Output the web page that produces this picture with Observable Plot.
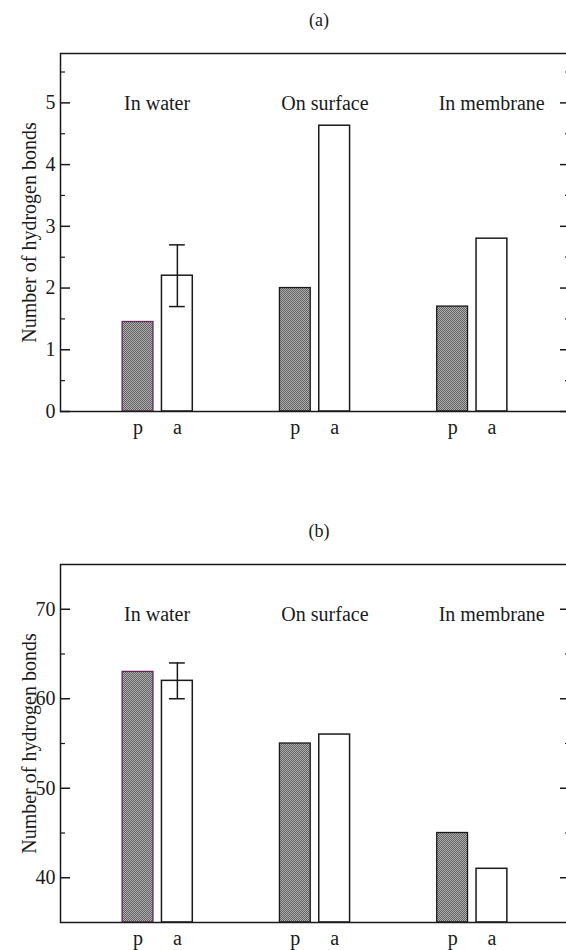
<!DOCTYPE html>
<html><head><meta charset="utf-8">
<script src="https://cdn.jsdelivr.net/npm/d3@7"></script>
<script src="https://cdn.jsdelivr.net/npm/@observablehq/plot@0.6"></script>
<style>
html,body{margin:0;padding:0;background:#fff;overflow:hidden;width:566px}
#wrap{width:566px;height:950px;overflow:hidden;position:relative;background:#fff}
#wrap svg{display:block;font-family:'Liberation Serif','Times New Roman',serif !important}
#wrap svg text{font-family:'Liberation Serif','Times New Roman',serif !important}
</style></head><body><div id="wrap"></div>
<script>
// ---- data ----
const groups = ["In water", "On surface", "In membrane"];
const types = ["p", "a"];
const yLabel = "Number of hydrogen bonds";

// panel (a)
const titleA = "(a)";
const bondsA_p = [1.45, 2.0, 1.7];
const bondsA_a = [2.2, 4.63, 2.8];
const errA_group = ["In water"];
const errA_low = [1.7];
const errA_high = [2.7];
const yDomainA = [0, 5.8];
const yTicksA = [0, 1, 2, 3, 4, 5];
const yMinorA = [0.5, 1.5, 2.5, 3.5, 4.5, 5.5];

// panel (b)
const titleB = "(b)";
const bondsB_p = [63, 55, 45];
const bondsB_a = [62, 56, 41];
const errB_group = ["In water"];
const errB_low = [60];
const errB_high = [64];
const yDomainB = [35, 75];
const yTicksB = [40, 50, 60, 70];
const yMinorB = [45, 55, 65];

// ---- helpers ----
const keyOf = (g, t) => g + "|" + t;
const slots = [];
groups.forEach((g, i) => {
  types.forEach(t => slots.push(keyOf(g, t)));
  if (i < groups.length - 1) { slots.push("gap" + i + "a"); slots.push("gap" + i + "b"); }
});

const INK = "#1a1a1a";
const FONT = "'Liberation Serif', 'Times New Roman', serif";

function panel({id, title, pVals, aVals, errGroups, errLow, errHigh, yDomain, yTicks, yMinor, marginTop, marginBottom}) {
  const bars = groups.flatMap((g, i) => [
    {group: g, type: "p", value: pVals[i]},
    {group: g, type: "a", value: aVals[i]}
  ]);
  const errs = errGroups.map((g, i) => ({group: g, type: "a", low: errLow[i], high: errHigh[i]}));
  const xk = d => keyOf(d.group, d.type);
  const pBars = bars.filter(d => d.type === "p");
  const aBars = bars.filter(d => d.type === "a");
  const svg = Plot.plot({
    width: 566, height: 475,
    marginLeft: 60, marginRight: -3, marginTop, marginBottom,
    style: {fontFamily: FONT, fontSize: "20px", color: INK, background: "white"},
    x: {domain: slots, paddingInner: 0.216, paddingOuter: 1.58, round: false},
    y: {domain: yDomain},
    marks: [
      Plot.barY(pBars, {x: xk, y1: yDomain[0], y2: "value", fill: `url(#hatch${id})`,
        stroke: d => d.group === "In water" ? "#6a2458" : INK, strokeWidth: 1.3}),
      Plot.barY(aBars, {x: xk, y1: yDomain[0], y2: "value", fill: "white", stroke: INK, strokeWidth: 1.5}),
      Plot.ruleX(errs, {x: xk, y1: "low", y2: "high", stroke: INK, strokeWidth: 1.5}),
      Plot.tickY(errs, {x: xk, y: "low", insetLeft: 7.5, insetRight: 7.5, stroke: INK, strokeWidth: 1.5}),
      Plot.tickY(errs, {x: xk, y: "high", insetLeft: 7.5, insetRight: 7.5, stroke: INK, strokeWidth: 1.5}),
      Plot.frame({stroke: INK, strokeWidth: 1.5}),
      // left axis
      Plot.axisY({ticks: yTicks, tickSize: -10, fill: "none", label: null, strokeWidth: 1.5, stroke: INK}),
      Plot.axisY({ticks: yMinor, tickSize: -5, fill: "none", label: null, strokeWidth: 1.2, stroke: INK}),
      Plot.axisY({ticks: yTicks, tickSize: 0, tickPadding: 5, label: null, fontSize: 20, fill: INK,
        tickFormat: d => String(d)}),
      // right axis
      Plot.axisY({anchor: "right", ticks: yTicks, tickSize: -10, fill: "none", label: null, strokeWidth: 1.5, stroke: INK}),
      Plot.axisY({anchor: "right", ticks: yMinor, tickSize: -5, fill: "none", label: null, strokeWidth: 1.2, stroke: INK}),
      // x labels
      Plot.axisX({tickSize: 0, tickPadding: 8, label: null, fontSize: 20, fill: INK,
        tickFormat: d => d.includes("|") ? d.split("|")[1] : ""}),
      // group labels
      Plot.text(groups, {x: g => keyOf(g, "p"), text: g => g, frameAnchor: "top", dy: 50, dx: -14,
        textAnchor: "start", lineAnchor: "middle", fontSize: 20, fill: INK}),
      // y label
      Plot.text([yLabel], {text: d => d, frameAnchor: "left", rotate: -90, dx: -31,
        textAnchor: "middle", lineAnchor: "middle", fontSize: 20, fill: INK}),
      // panel title
      Plot.text([title], {text: d => d, frameAnchor: "top", dy: -33, dx: 4,
        textAnchor: "middle", lineAnchor: "middle", fontSize: 18, fill: INK})
    ]
  });
  const ns = "http://www.w3.org/2000/svg";
  const defs = document.createElementNS(ns, "defs");
  defs.innerHTML = `<pattern id="hatch${id}" width="2" height="2" patternUnits="userSpaceOnUse">
    <rect width="2" height="2" fill="#b0b0b0"/>
    <rect x="0" y="0" width="1" height="1" fill="#606060"/>
    <rect x="1" y="1" width="1" height="1" fill="#606060"/></pattern>`;
  svg.insertBefore(defs, svg.firstChild);
  return svg;
}

const wrap = document.getElementById("wrap");
wrap.appendChild(panel({id: "A", title: titleA, pVals: bondsA_p, aVals: bondsA_a,
  errGroups: errA_group, errLow: errA_low, errHigh: errA_high,
  yDomain: yDomainA, yTicks: yTicksA, yMinor: yMinorA, marginTop: 53, marginBottom: 64}));
wrap.appendChild(panel({id: "B", title: titleB, pVals: bondsB_p, aVals: bondsB_a,
  errGroups: errB_group, errLow: errB_low, errHigh: errB_high,
  yDomain: yDomainB, yTicks: yTicksB, yMinor: yMinorB, marginTop: 89, marginBottom: 28}));
</script>
</body></html>
